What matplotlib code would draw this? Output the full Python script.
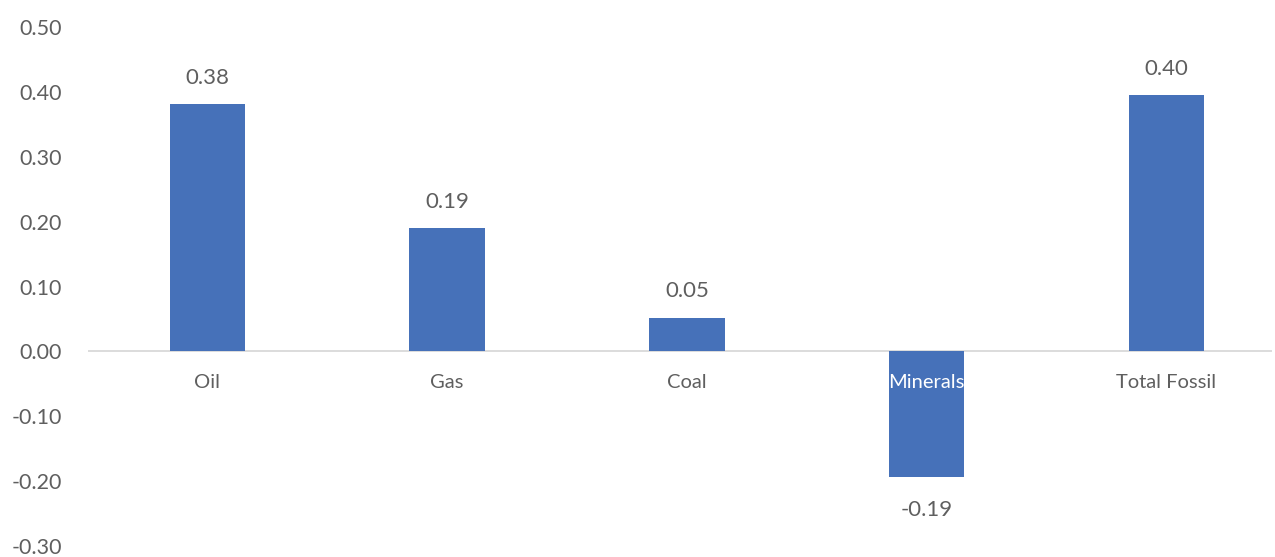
import matplotlib
matplotlib.use("Agg")
import matplotlib.pyplot as plt

categories = ["Oil", "Gas", "Coal", "Minerals", "Total Fossil"]
values = [0.381, 0.190, 0.052, -0.194, 0.395]
labels = ["0.38", "0.19", "0.05", "-0.19", "0.40"]
yticks = [-0.30, -0.20, -0.10, 0.00, 0.10, 0.20, 0.30, 0.40, 0.50]

plt.rcParams["font.family"] = ["Lato", "DejaVu Sans"]
text_color = "#5f5f5f"
bar_color = "#4671B9"

fig = plt.figure(figsize=(12.75, 5.57), dpi=100)
# axes span a little past the right edge so categories are evenly spaced
ax = fig.add_axes([0.0687, 0.0197, 0.9401, 0.9318])

x = list(range(len(categories)))
ax.bar(x, values, width=0.315, color=bar_color, zorder=2)
ax.plot([-0.5, 4.44], [0, 0], color="#d9d9d9", linewidth=1.3, zorder=1,
        solid_capstyle="butt")

ax.set_xlim(-0.5, len(categories) - 0.5)
ax.set_ylim(-0.30, 0.50)
ax.set_yticks(yticks)
ax.set_yticklabels([f"{t:.2f}" for t in yticks])
ax.tick_params(axis="y", length=0, pad=18.5, labelsize=15.5, labelcolor=text_color)
ax.set_xticks([])
for s in ax.spines.values():
    s.set_visible(False)

for xi, cat, v in zip(x, categories, values):
    col = "white" if v < 0 else text_color
    ax.annotate(cat, (xi, 0), xytext=(0, -22.5), textcoords="offset points",
                ha="center", va="center", fontsize=14.5, color=col, zorder=3)

for xi, v, lab in zip(x, values, labels):
    off = 19 if v >= 0 else -23.5
    ax.annotate(lab, (xi, v), xytext=(0, off), textcoords="offset points",
                ha="center", va="center", fontsize=16, color=text_color)

fig.savefig("out.png", dpi=100)
